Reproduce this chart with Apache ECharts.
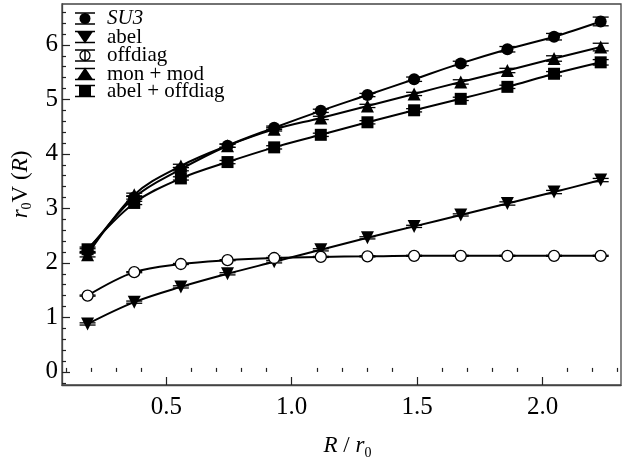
<!DOCTYPE html>
<html>
<head>
<meta charset="utf-8">
<script src="https://cdn.jsdelivr.net/npm/echarts@6/dist/echarts.min.js"></script>
<style>
  html, body { margin: 0; padding: 0; background: #fff; }
  #chart { width: 630px; height: 458px; }
</style>
</head>
<body>
<div id="chart"></div>
<script>
// R / r0 positions
var xs = [0.186, 0.372, 0.558, 0.744, 0.930, 1.116, 1.302, 1.488, 1.674, 1.860, 2.046, 2.232];

// r0 V(R) for each case
var su3         = [2.22, 3.20, 3.72, 4.15, 4.48, 4.79, 5.08, 5.37, 5.66, 5.92, 6.15, 6.43];
var abel        = [0.88, 1.28, 1.56, 1.80, 2.02, 2.24, 2.46, 2.67, 2.88, 3.09, 3.30, 3.52];
var offdiag     = [1.40, 1.83, 1.98, 2.05, 2.09, 2.11, 2.12, 2.13, 2.13, 2.13, 2.13, 2.13];
var monMod      = [2.15, 3.25, 3.78, 4.15, 4.45, 4.66, 4.88, 5.10, 5.32, 5.53, 5.75, 5.96];
var abelOffdiag = [2.25, 3.10, 3.55, 3.85, 4.12, 4.35, 4.58, 4.80, 5.01, 5.23, 5.47, 5.68];

// error bars (half length)
var su3Err         = [0.04, 0.03, 0.03, 0.03, 0.03, 0.03, 0.03, 0.04, 0.04, 0.05, 0.06, 0.08];
var abelErr        = [0.02, 0.02, 0.02, 0.02, 0.02, 0.02, 0.02, 0.02, 0.02, 0.03, 0.03, 0.03];
var offdiagErr     = [0.01, 0.01, 0.01, 0.01, 0.01, 0.01, 0.01, 0.01, 0.01, 0.01, 0.01, 0.01];
var monModErr      = [0.04, 0.03, 0.03, 0.03, 0.03, 0.03, 0.03, 0.03, 0.04, 0.04, 0.05, 0.07];
var abelOffdiagErr = [0.04, 0.03, 0.03, 0.03, 0.03, 0.03, 0.03, 0.03, 0.03, 0.03, 0.04, 0.05];

// axis ticks
var xMajor = [0.5, 1.0, 1.5, 2.0];
var xMinor = [0.1, 0.2, 0.3, 0.4, 0.6, 0.7, 0.8, 0.9, 1.1, 1.2, 1.3, 1.4, 1.6, 1.7, 1.8, 1.9, 2.1, 2.2, 2.3];
var yMajor = [0, 1, 2, 3, 4, 5, 6];
var yMinor = [-0.2, 0.2, 0.4, 0.6, 0.8, 1.2, 1.4, 1.6, 1.8, 2.2, 2.4, 2.6, 2.8,
              3.2, 3.4, 3.6, 3.8, 4.2, 4.4, 4.6, 4.8, 5.2, 5.4, 5.6, 5.8, 6.2, 6.4, 6.6];

var XMIN = 0.084, XMAX = 2.313, YMIN = -0.24, YMAX = 6.75;
var serif = '"Liberation Serif", "Times New Roman", Times, serif';
var ink = '#000';

function pts(ys) {
    return xs.map(function (x, i) { return [x, ys[i]]; });
}
function errPts(ys, es) {
    return xs.map(function (x, i) { return [x, ys[i], es[i]]; });
}

var myChart = echarts.init(document.getElementById('chart'));

function errorSeries(ys, es) {
    return {
        type: 'custom',
        z: 1,
        silent: true,
        data: errPts(ys, es),
        renderItem: function (params, api) {
            var x = api.value(0), y = api.value(1), e = api.value(2);
            var lo = api.coord([x, y - e]);
            var hi = api.coord([x, y + e]);
            var w = 8;
            var st = { stroke: ink, lineWidth: 1.3 };
            return {
                type: 'group',
                children: [
                    { type: 'line', shape: { x1: lo[0], y1: lo[1], x2: hi[0], y2: hi[1] }, style: st },
                    { type: 'line', shape: { x1: lo[0] - w, y1: lo[1], x2: lo[0] + w, y2: lo[1] }, style: st },
                    { type: 'line', shape: { x1: hi[0] - w, y1: hi[1], x2: hi[0] + w, y2: hi[1] }, style: st }
                ]
            };
        }
    };
}

function lineSeries(name, ys, symbol, size, fill, rotate) {
    return {
        name: name,
        type: 'line',
        z: 3,
        smooth: 0.35,
        data: pts(ys),
        symbol: symbol,
        symbolSize: size,
        symbolRotate: rotate || 0,
        showAllSymbol: true,
        lineStyle: { color: ink, width: 2 },
        itemStyle: { color: fill, borderColor: ink, borderWidth: fill === '#fff' ? 1.3 : 0 },
        emphasis: { disabled: true }
    };
}

// 图例 (drawn by hand, markers with error caps)
var legendNames = ['{it|SU3}', 'abel', 'offdiag', 'mon + mod', 'abel + offdiag'];
var legendY = [18.5, 37, 55.5, 74, 91];
var legendShapes = ['circle', 'down', 'open', 'up', 'rect'];
var graphics = [];
legendShapes.forEach(function (sh, i) {
    var cy = legendY[i], cx = 85, h = 5.5;
    var kids = [];
    var st = { stroke: ink, lineWidth: 1.5 };
    kids.push({ type: 'line', shape: { x1: cx - 10, y1: cy - h, x2: cx + 10, y2: cy - h }, style: st });
    kids.push({ type: 'line', shape: { x1: cx - 10, y1: cy + h, x2: cx + 10, y2: cy + h }, style: st });
    if (sh === 'circle') {
        kids.push({ type: 'line', shape: { x1: cx, y1: cy - h, x2: cx, y2: cy + h }, style: st });
        kids.push({ type: 'circle', shape: { cx: cx, cy: cy, r: 5.5 }, style: { fill: ink } });
    } else if (sh === 'open') {
        kids.push({ type: 'circle', shape: { cx: cx, cy: cy, r: 5 }, style: { fill: '#fff', stroke: ink, lineWidth: 1.3 } });
        kids.push({ type: 'line', shape: { x1: cx, y1: cy - h, x2: cx, y2: cy + h }, style: st });
    } else if (sh === 'down') {
        kids.push({ type: 'line', shape: { x1: cx, y1: cy - h, x2: cx, y2: cy + h }, style: st });
        kids.push({ type: 'polygon', shape: { points: [[cx - 8, cy - h], [cx + 8, cy - h], [cx, cy + h + 1]] }, style: { fill: ink } });
    } else if (sh === 'up') {
        kids.push({ type: 'line', shape: { x1: cx, y1: cy - h, x2: cx, y2: cy + h }, style: st });
        kids.push({ type: 'polygon', shape: { points: [[cx - 8, cy + h], [cx + 8, cy + h], [cx, cy - h - 1]] }, style: { fill: ink } });
    } else {
        kids.push({ type: 'line', shape: { x1: cx, y1: cy - h, x2: cx, y2: cy + h }, style: st });
        kids.push({ type: 'rect', shape: { x: cx - 6, y: cy - h, width: 12, height: 2 * h }, style: { fill: ink } });
    }
    kids.push({
        type: 'text',
        style: {
            x: 107, y: cy, text: legendNames[i],
            fill: ink, fontSize: 21, fontFamily: serif, verticalAlign: 'middle',
            rich: { it: { fontStyle: 'italic', fontSize: 21, fontFamily: serif, fill: ink } }
        }
    });
    graphics.push({ type: 'group', children: kids, z: 10 });
});

var nameRich = {
    i: { fontStyle: 'italic', fontSize: 23, fontFamily: serif, color: ink, lineHeight: 28 },
    n: { fontSize: 23, fontFamily: serif, color: ink, lineHeight: 28 },
    s: { fontSize: 14, fontFamily: serif, color: ink, lineHeight: 12, verticalAlign: 'bottom' }
};

option = {
    animation: false,
    backgroundColor: '#fff',
    grid: {
        left: 62, right: 9, top: 4, bottom: 73,
        outerBoundsMode: 'none', containLabel: false,
        show: true, borderColor: '#444', borderWidth: 1.3, backgroundColor: 'transparent'
    },
    graphic: graphics,
    xAxis: [
        {
            type: 'value', min: XMIN, max: XMAX, position: 'bottom',
            axisLine: { show: true, onZero: false, lineStyle: { color: '#444', width: 1.3 } },
            axisTick: { show: true, inside: true, length: 8, customValues: xMajor, lineStyle: { color: '#222', width: 1.2 } },
            axisLabel: {
                customValues: xMajor, margin: 10, color: ink, fontSize: 25, fontFamily: serif,
                formatter: function (v) { return v.toFixed(1); }
            },
            splitLine: { show: false },
            name: '{i|R}{n| / }{i|r}{s|0}', nameLocation: 'middle', nameGap: 47,
            nameTextStyle: { rich: nameRich, padding: [0, 0, 0, 12] }
        },
        {
            type: 'value', min: XMIN, max: XMAX, position: 'bottom',
            axisLine: { show: false },
            axisTick: { show: true, inside: true, length: 4, customValues: xMinor, lineStyle: { color: '#222', width: 1.2 } },
            axisLabel: { show: false },
            splitLine: { show: false }
        }
    ],
    yAxis: [
        {
            type: 'value', min: YMIN, max: YMAX, position: 'left',
            axisLine: { show: true, onZero: false, lineStyle: { color: '#444', width: 1.3 } },
            axisTick: { show: true, inside: true, length: 8, customValues: yMajor, lineStyle: { color: '#222', width: 1.2 } },
            axisLabel: { customValues: yMajor, margin: 4, color: ink, fontSize: 25, fontFamily: serif },
            splitLine: { show: false },
            name: '{i|r}{s|0}{n|V (}{i|R}{n|)}', nameLocation: 'middle', nameGap: 26,
            nameTextStyle: { rich: nameRich, padding: [0, 0, 0, 20] }
        },
        {
            type: 'value', min: YMIN, max: YMAX, position: 'left',
            axisLine: { show: false },
            axisTick: { show: true, inside: true, length: 4, customValues: yMinor, lineStyle: { color: '#222', width: 1.2 } },
            axisLabel: { show: false },
            splitLine: { show: false }
        }
    ],
    series: [
        errorSeries(su3, su3Err),
        errorSeries(abel, abelErr),
        errorSeries(offdiag, offdiagErr),
        errorSeries(monMod, monModErr),
        errorSeries(abelOffdiag, abelOffdiagErr),
        lineSeries('abel', abel, 'triangle', 13, ink, 180),
        lineSeries('offdiag', offdiag, 'circle', 11, '#fff'),
        lineSeries('abel + offdiag', abelOffdiag, 'rect', 12, ink),
        lineSeries('mon + mod', monMod, 'triangle', 13, ink),
        lineSeries('SU3', su3, 'circle', 12, ink)
    ]
};

myChart.setOption(option);
</script>
</body>
</html>
